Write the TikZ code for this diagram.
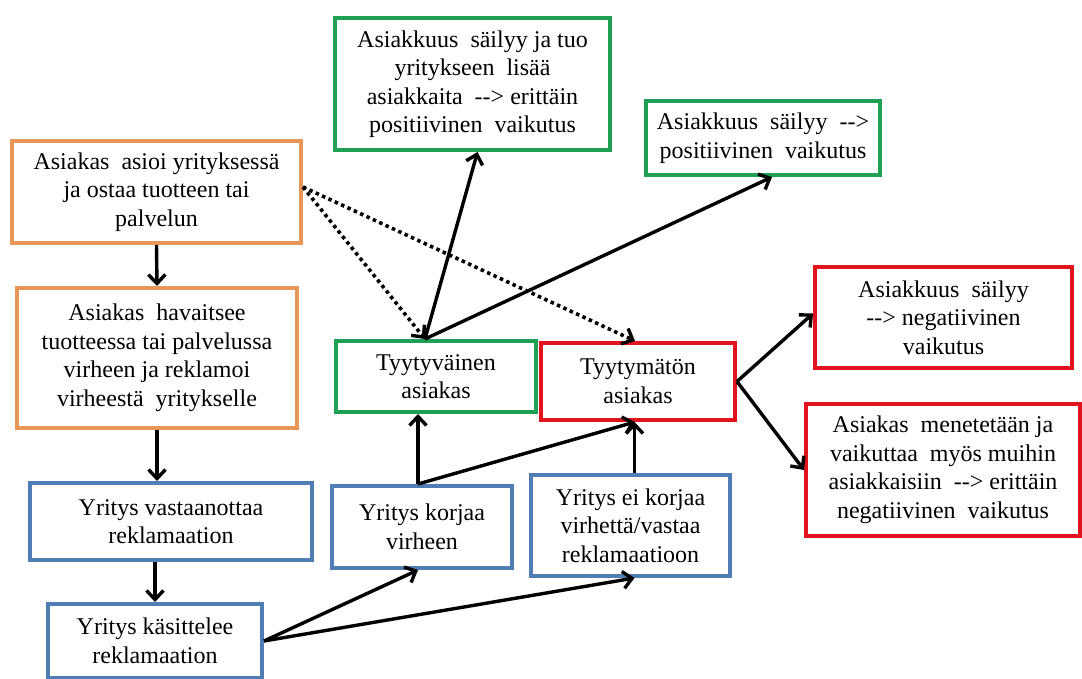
\documentclass[tikz,border=0pt]{standalone}
\usepackage{fontspec}
\setmainfont{Liberation Serif}
\usetikzlibrary{arrows.meta, calc}

\definecolor{boxorange}{RGB}{232,150,85}
\definecolor{boxgreen}{RGB}{30,160,85}
\definecolor{boxblue}{RGB}{80,125,180}
\definecolor{boxred}{RGB}{225,20,30}

\begin{document}
\begin{tikzpicture}[
  x=1pt, y=-1pt,
  >={Straight Barb[length=9pt, width=17pt, line width=3.4pt]},
  every node/.style={font=\fontsize{24}{28.5}\selectfont},
  box/.style={draw, line width=4pt, fill=white, align=center, inner sep=2pt},
  orangebox/.style={box, draw=boxorange},
  greenbox/.style={box, draw=boxgreen},
  bluebox/.style={box, draw=boxblue},
  redbox/.style={box, draw=boxred},
  flow/.style={->, line width=3.4pt},
  maybe/.style={->, line width=3.6pt, dash pattern=on 3.5pt off 3.5pt}
]
\useasboundingbox (0,0) rectangle (1082,679);

% ---- Customer side ----
\node[orangebox, minimum width=289pt, minimum height=102pt] (buy) at (156.5,192)
  {Asiakas\ \ asioi yrityksessä\\ja ostaa tuotteen tai\\palvelun};
\node[orangebox, minimum width=280pt, minimum height=140pt] (notice) at (157,358)
  {Asiakas\ \ havaitsee\\tuotteessa tai palvelussa\\virheen ja reklamoi\\virheestä\ \ yritykselle};

% ---- Company side ----
\node[bluebox, minimum width=282pt, minimum height=77pt] (receive) at (171,521.5)
  {Yritys vastaanottaa\\reklamaation};
\node[bluebox, minimum width=214pt, minimum height=74pt] (handle) at (155,641)
  {Yritys käsittelee\\reklamaation};
\node[bluebox, minimum width=180pt, minimum height=82pt] (fix) at (422,527)
  {Yritys korjaa\\virheen};
\node[bluebox, minimum width=199pt, minimum height=101pt] (nofix) at (630.5,525.5)
  {Yritys ei korjaa\\virhettä/vastaa\\reklamaatioon};

% ---- Outcome ----
\node[greenbox, minimum width=200pt, minimum height=71pt] (happy) at (436,376.5)
  {Tyytyväinen\\asiakas};
\node[redbox, minimum width=194pt, minimum height=77pt] (unhappy) at (638,381.5)
  {Tyytymätön\\asiakas};

% ---- Effects ----
\node[greenbox, minimum width=275pt, minimum height=132pt] (verypos) at (472.5,84)
  {Asiakkuus\ \ säilyy ja tuo\\yritykseen\ \ lisää\\asiakkaita\ \ -{}-> erittäin\\positiivinen\ \ vaikutus};
\node[greenbox, minimum width=234pt, minimum height=74pt] (pos) at (763,138)
  {Asiakkuus\ \ säilyy\ \ -{}->\\positiivinen\ \ vaikutus};
\node[redbox, minimum width=257pt, minimum height=101pt] (neg) at (943.5,317.5)
  {Asiakkuus\ \ säilyy\\-{}-> negatiivinen\\vaikutus};
\node[redbox, minimum width=274pt, minimum height=132pt] (veryneg) at (943,470)
  {Asiakas\ \ menetetään ja\\vaikuttaa\ \ myös muihin\\asiakkaisiin\ \ -{}-> erittäin\\negatiivinen\ \ vaikutus};

\coordinate (happytop) at ([xshift=-11pt]happy.north);
\coordinate (buyout) at ([yshift=5pt]buy.east);

% ---- Arrows ----
\draw[flow] (buy.south) -- (notice.north);
\draw[flow] (notice.south) -- (notice.south |- receive.north);
\draw[flow] (handle.north |- receive.south) -- (handle.north);
\draw[flow] (handle.east) -- ([xshift=-4pt]fix.south);
\draw[flow] (handle.east) -- ([xshift=4pt]nofix.south);
\draw[flow] ([xshift=-4pt]fix.north) -- ([xshift=-4pt]fix.north |- happy.south);
\draw[flow] ([xshift=-4pt]fix.north) -- ([xshift=-3pt]unhappy.south);
\draw[flow] ([xshift=4pt]nofix.north) -- ([xshift=4pt]nofix.north |- unhappy.south);
\draw[flow] (happytop) -- ([xshift=5pt]verypos.south);
\draw[flow] (happytop) -- ([xshift=9pt]pos.south);
\draw[flow] (unhappy.east) -- ([yshift=4pt]neg.west);
\draw[flow] (unhappy.east) -- (veryneg.west);

% ---- Dotted ----
\draw[maybe] (buyout) -- (happytop);
\draw[maybe] (buyout) -- ([xshift=-3pt]unhappy.north);

\end{tikzpicture}
\end{document}
